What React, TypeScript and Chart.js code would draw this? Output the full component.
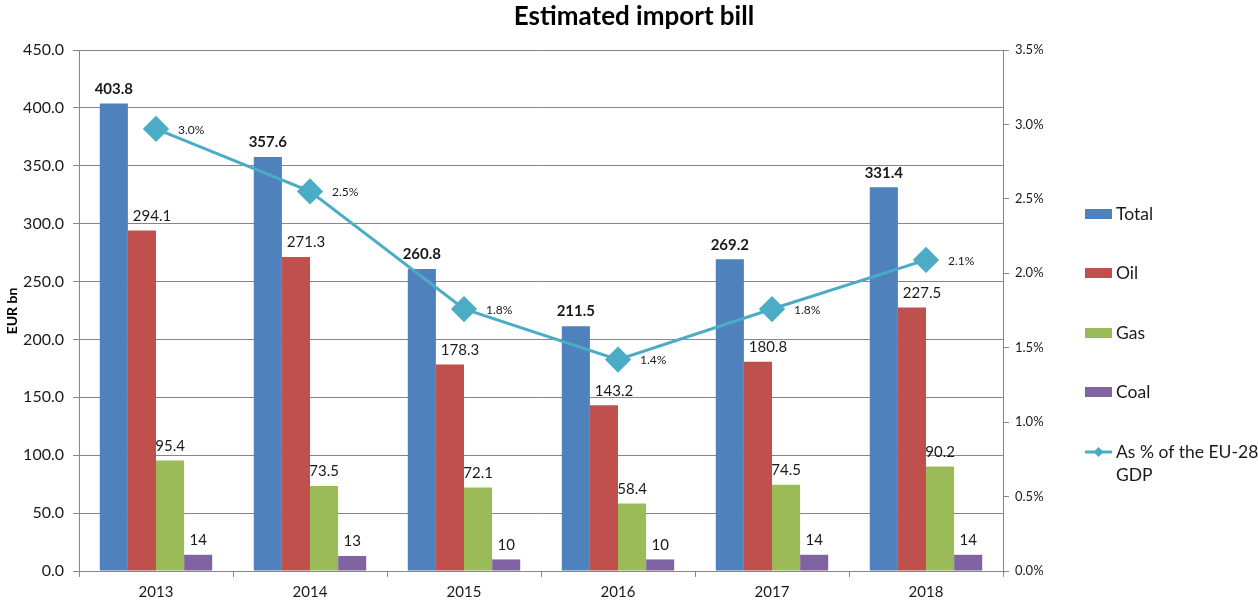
import React, { useEffect, useRef } from "react";
import { Chart, registerables } from "chart.js";
Chart.register(...registerables);

const years = ["2013", "2014", "2015", "2016", "2017", "2018"];
const total = [403.8, 357.6, 260.8, 211.5, 269.2, 331.4];
const oil = [294.1, 271.3, 178.3, 143.2, 180.8, 227.5];
const gas = [95.4, 73.5, 72.1, 58.4, 74.5, 90.2];
const coal = [14, 13, 10, 10, 14, 14];
const gdpShare = [2.97, 2.55, 1.76, 1.42, 1.76, 2.09];
const leftTicks = [0, 50, 100, 150, 200, 250, 300, 350, 400, 450];
const rightTicks = [0, 0.5, 1.0, 1.5, 2.0, 2.5, 3.0, 3.5];

const FONT = "Lato, 'Open Sans', sans-serif";
const C_TOTAL = "#4F81BD";
const C_OIL = "#C0504D";
const C_GAS = "#9BBB59";
const C_COAL = "#8064A2";
const C_LINE = "#4BACC6";

const legendItems = [
  { label: ["Total"], color: C_TOTAL, line: false },
  { label: ["Oil"], color: C_OIL, line: false },
  { label: ["Gas"], color: C_GAS, line: false },
  { label: ["Coal"], color: C_COAL, line: false },
  { label: ["As % of the EU-28", "GDP"], color: C_LINE, line: true },
];

export default function App() {
  const ref = useRef<HTMLCanvasElement>(null);
  useEffect(() => {
    const canvas = ref.current!;
    const labelPlugin = {
      id: "labels",
      afterDatasetsDraw(chart: any) {
        const ctx = chart.ctx;
        ctx.save();
        for (let d = 0; d < 4; d++) {
          const meta = chart.getDatasetMeta(d);
          const ds = chart.data.datasets[d];
          ctx.font = (d === 0 ? "bold " : "") + "15px " + FONT;
          ctx.fillStyle = "#1a1a1a";
          ctx.textAlign = "center";
          ctx.textBaseline = "bottom";
          meta.data.forEach((el: any, i: number) => {
            const v = ds.data[i];
            const txt = d === 3 ? String(v) : v.toFixed(1);
            const dx = d === 1 ? 10 : 0;
            ctx.fillText(txt, el.x + dx, el.y - 7);
          });
        }
        const lm = chart.getDatasetMeta(4);
        ctx.font = "12px " + FONT;
        ctx.textAlign = "left";
        ctx.textBaseline = "middle";
        lm.data.forEach((el: any, i: number) => {
          ctx.fillText(gdpShare[i].toFixed(1) + "%", el.x + 22, el.y + 1);
        });
        ctx.restore();
      },
      afterDraw(chart: any) {
        const ctx = chart.ctx;
        ctx.save();
        ctx.fillStyle = "#000";
        ctx.font = "bold 26px " + FONT;
        ctx.textAlign = "center";
        ctx.textBaseline = "middle";
        ctx.fillText("Estimated import bill", 634, 17);
        // axis title
        ctx.save();
        ctx.translate(12, 311);
        ctx.rotate(-Math.PI / 2);
        ctx.font = "bold 14px " + FONT;
        ctx.fillText("EUR bn", 0, 0);
        ctx.restore();
        // legend
        const ys = [214, 273, 333, 392, 452];
        legendItems.forEach((it, k) => {
          const y = ys[k];
          if (it.line) {
            ctx.strokeStyle = it.color;
            ctx.lineWidth = 3;
            ctx.beginPath();
            ctx.moveTo(1085, y);
            ctx.lineTo(1112, y);
            ctx.stroke();
            ctx.fillStyle = it.color;
            ctx.beginPath();
            ctx.moveTo(1098.5, y - 5);
            ctx.lineTo(1103.5, y);
            ctx.lineTo(1098.5, y + 5);
            ctx.lineTo(1093.5, y);
            ctx.closePath();
            ctx.fill();
          } else {
            ctx.fillStyle = it.color;
            ctx.fillRect(1085, y - 5, 27, 10);
          }
          ctx.fillStyle = "#1a1a1a";
          ctx.font = "17.5px " + FONT;
          ctx.textAlign = "left";
          ctx.textBaseline = "middle";
          it.label.forEach((t, j) => ctx.fillText(t, 1116, y + j * 23));
        });
        ctx.restore();
      },
    };

    const chart = new Chart(canvas, {
      type: "bar",
      data: {
        labels: years,
        datasets: [
          { label: "Total", data: total, backgroundColor: C_TOTAL, yAxisID: "y", order: 2 },
          { label: "Oil", data: oil, backgroundColor: C_OIL, yAxisID: "y", order: 2 },
          { label: "Gas", data: gas, backgroundColor: C_GAS, yAxisID: "y", order: 2 },
          { label: "Coal", data: coal, backgroundColor: C_COAL, yAxisID: "y", order: 2 },
          {
            type: "line",
            label: "As % of the EU-28 GDP",
            data: gdpShare,
            yAxisID: "y1",
            borderColor: C_LINE,
            backgroundColor: C_LINE,
            borderWidth: 3,
            pointStyle: "rectRot",
            pointRadius: 11,
            pointHoverRadius: 11,
            pointBackgroundColor: C_LINE,
            pointBorderColor: C_LINE,
            tension: 0,
            order: 1,
          } as any,
        ],
      },
      options: {
        animation: false,
        responsive: false,
        events: [],
        layout: { padding: { top: 50, left: 0, right: 195, bottom: 0 } },
        datasets: { bar: { categoryPercentage: 0.73, barPercentage: 1.0 } },
        plugins: { legend: { display: false }, title: { display: false }, tooltip: { enabled: false } },
        scales: {
          x: {
            offset: true,
            grid: { display: true, offset: true, drawOnChartArea: false, color: "#868686", tickLength: 6 },
            border: { color: "#868686" },
            ticks: { font: { family: FONT, size: 15 }, color: "#1a1a1a", padding: 6 },
            afterFit: (s: any) => { s.height = 32; },
          },
          y: {
            position: "left",
            min: 0,
            max: 450,
            afterBuildTicks: (s: any) => { s.ticks = leftTicks.map((v) => ({ value: v })); },
            grid: { color: "#868686", tickLength: 6 },
            border: { color: "#868686" },
            ticks: {
              font: { family: FONT, size: 16 },
              color: "#1a1a1a",
              padding: 9,
              callback: (v: any) => Number(v).toFixed(1),
            },
            afterFit: (s: any) => { s.width = 79; },
          },
          y1: {
            position: "right",
            min: 0,
            max: 3.5,
            afterBuildTicks: (s: any) => { s.ticks = rightTicks.map((v) => ({ value: v })); },
            grid: { drawOnChartArea: false, color: "#868686", tickLength: 6 },
            border: { color: "#868686" },
            ticks: {
              font: { family: FONT, size: 13 },
              color: "#1a1a1a",
              padding: 6,
              callback: (v: any) => Number(v).toFixed(1) + "%",
            },
            afterFit: (s: any) => { s.width = 60; },
          },
        },
      } as any,
      plugins: [labelPlugin],
    });
    return () => chart.destroy();
  }, []);
  return (
    <div style={{ position: "absolute", left: 0, top: 0, width: 1258, height: 603, background: "#fff" }}>
      <canvas ref={ref} width={1258} height={603} />
    </div>
  );
}
